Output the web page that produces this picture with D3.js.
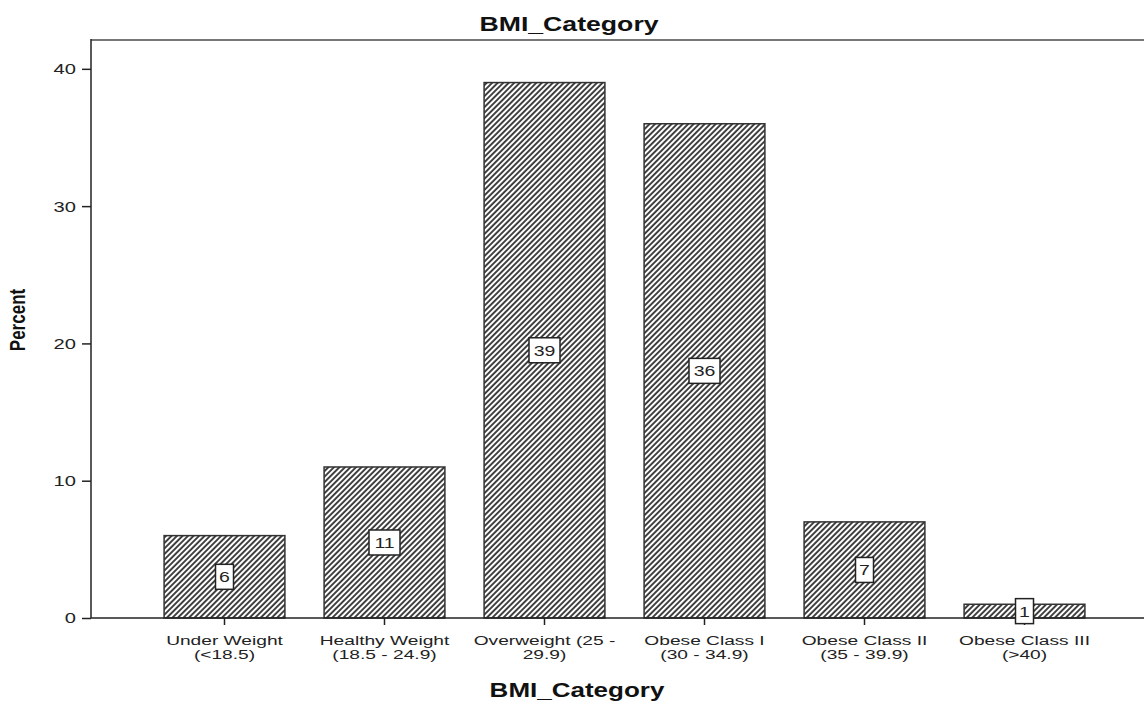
<!DOCTYPE html>
<html><head><meta charset="utf-8">
<script src="https://cdn.jsdelivr.net/npm/d3@7"></script>
<style>body{margin:0;background:#fff}svg{font-family:"Liberation Sans",Arial,sans-serif}</style>
</head><body><svg id="c" width="1144" height="704"></svg>
<script>
const categories = [["Under Weight","(<18.5)"],["Healthy Weight","(18.5 - 24.9)"],["Overweight (25 -","29.9)"],["Obese Class I","(30 - 34.9)"],["Obese Class II","(35 - 39.9)"],["Obese Class III","(>40)"]];
const percents = [6, 11, 39, 36, 7, 1];
const yTicks = [0, 10, 20, 30, 40];

(function(){
const SX = 1.3; // horizontal stretch of the original rendering
const SXT = 1.42;
const svg = d3.select("#c");
const mLeft = 91, mTop = 40, mBottom = 618, mRight = 1144;
const x = d3.scaleBand().domain(d3.range(categories.length)).range([144.5, 1104.5]).paddingInner(0.245).paddingOuter(0.1225);
const y = d3.scaleLinear().domain([0, 42.1]).range([mBottom, mTop]);

const defs = svg.append("defs");
const pat = defs.append("pattern").attr("id","hatch").attr("patternUnits","userSpaceOnUse")
  .attr("width",3.9).attr("height",8).attr("patternTransform","rotate(45)");
pat.append("rect").attr("width",3.9).attr("height",8).attr("fill","#fff");
pat.append("line").attr("x1",1).attr("x2",1).attr("y1",0).attr("y2",8).attr("stroke","#222").attr("stroke-width",1.7);

svg.append("line").attr("x1",mLeft).attr("x2",mRight).attr("y1",mTop).attr("y2",mTop).attr("stroke","#777").attr("stroke-width",2);

svg.append("g").selectAll("rect.bar").data(percents).join("rect").attr("class","bar")
  .attr("x",(d,i)=>x(i)).attr("width",x.bandwidth())
  .attr("y",d=>y(d)).attr("height",d=>mBottom-y(d))
  .attr("fill","url(#hatch)").attr("stroke","#333").attr("stroke-width",1.5);

svg.append("line").attr("x1",mLeft).attr("x2",mRight).attr("y1",mBottom).attr("y2",mBottom).attr("stroke","#222").attr("stroke-width",1.5);
svg.append("line").attr("x1",mLeft).attr("x2",mLeft).attr("y1",mTop-1).attr("y2",mBottom).attr("stroke","#222").attr("stroke-width",1.5);

const yAxis = svg.append("g").attr("transform",`translate(${mLeft},0)`)
  .call(d3.axisLeft(y).tickValues(yTicks).tickSize(9));
yAxis.select(".domain").remove();
yAxis.selectAll("line").attr("stroke","#222").attr("stroke-width",1.5);
yAxis.selectAll("text").attr("font-size",15.5).attr("fill","#222").attr("font-family","Liberation Sans, Arial, sans-serif")
  .attr("x",-15/SX).attr("transform",`scale(${SX},1)`);

const xAxis = svg.append("g").attr("transform",`translate(0,${mBottom})`)
  .call(d3.axisBottom(x).tickSize(7).tickFormat(""));
xAxis.select(".domain").remove();
xAxis.selectAll("line").attr("stroke","#222").attr("stroke-width",1.5);
xAxis.selectAll(".tick").each(function(d){
  const g = d3.select(this);
  g.append("text").attr("fill","#222").attr("font-size",13.5).attr("text-anchor","middle").attr("x",0).attr("y",27).attr("transform",`scale(${SXT},1)`).text(categories[d][0]);
  g.append("text").attr("fill","#222").attr("font-size",13.5).attr("text-anchor","middle").attr("x",0).attr("y",41).attr("transform",`scale(${SXT},1)`).text(categories[d][1]);
});

const lab = svg.append("g");
percents.forEach((v,i)=>{
  const cx = x(i)+x.bandwidth()/2, cy = y(v/2);
  const txt = String(v);
  const w = txt.length*13+5, h = 25;
  lab.append("rect").attr("x",cx-w/2).attr("y",cy-h/2).attr("width",w).attr("height",h).attr("fill","#fff").attr("stroke","#222").attr("stroke-width",1.5);
  lab.append("text").attr("transform",`translate(${cx},${cy+5.5}) scale(${SX},1)`).attr("text-anchor","middle").attr("font-size",15).attr("fill","#222").text(txt);
});

svg.append("text").attr("transform",`translate(569,31) scale(${SX},1)`).attr("text-anchor","middle").attr("font-weight","bold").attr("font-size",20.5).attr("fill","#111").text("BMI_Category");
svg.append("text").attr("transform",`translate(577,697) scale(${SX},1)`).attr("text-anchor","middle").attr("font-weight","bold").attr("font-size",20).attr("fill","#111").text("BMI_Category");
svg.append("text").attr("transform",`translate(25,320) scale(${SX},1) rotate(-90)`).attr("text-anchor","middle").attr("font-weight","bold").attr("font-size",17).attr("fill","#111").text("Percent");
})();
</script></body></html>
